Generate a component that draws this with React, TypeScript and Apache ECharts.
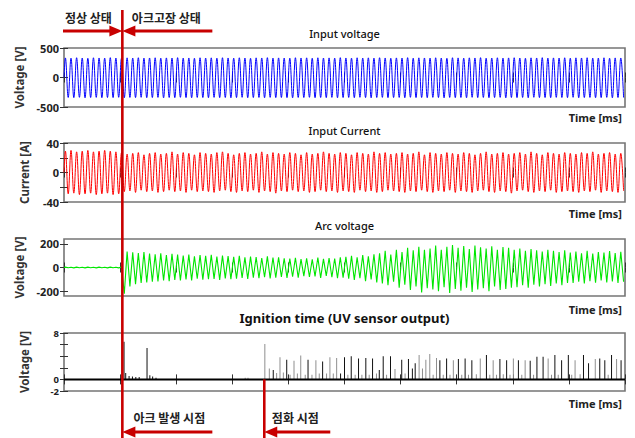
import React, { useEffect, useRef } from "react";
import * as echarts from "echarts";

// Time base (ms) and event markers
const TIME_MIN = 0;
const TIME_MAX = 1000;
const HALF_PERIOD = 5;
const faultTime = 104;
const ignitionTime = 357;

// Input voltage: positive / negative peak of every cycle [V]
const voltagePos = [
  332, 328, 335, 330, 326, 334, 331, 329, 336, 330,
  327, 333, 330, 335, 329, 331, 334, 328, 332, 330,
  336, 329, 331, 327, 334, 330, 333, 328, 335, 331,
  329, 334, 330, 326, 333, 331, 336, 329, 332, 330,
  328, 335, 331, 333, 327, 334, 330, 332, 329, 336,
  331, 328, 334, 330, 333, 329, 335, 331, 327, 332,
  330, 336, 328, 333, 331, 329, 334, 330, 326, 335,
  332, 329, 333, 331, 336, 328, 330, 334, 329, 332,
  335, 330, 327, 333, 331, 336, 329, 332, 330, 334,
  328, 333, 331, 335, 329, 330, 334, 327, 332, 331,
];
const voltageNeg = [
  -338, -342, -336, -345, -340, -337, -343, -339, -341, -336,
  -344, -338, -341, -336, -343, -340, -337, -345, -339, -342,
  -336, -341, -344, -338, -340, -343, -337, -342, -339, -345,
  -341, -336, -343, -340, -338, -344, -337, -341, -339, -342,
  -345, -338, -340, -336, -343, -339, -342, -337, -344, -340,
  -338, -343, -336, -341, -345, -339, -337, -342, -340, -338,
  -344, -336, -341, -339, -343, -337, -340, -345, -338, -342,
  -339, -344, -336, -341, -338, -343, -340, -337, -345, -339,
  -342, -338, -344, -336, -341, -340, -343, -337, -339, -342,
  -336, -344, -340, -338, -343, -341, -337, -345, -339, -340,
];

// Input current: positive / negative peak of every cycle [A]
const currentPos = [
  29, 30, 28, 29, 30, 28, 29, 30, 29, 28,
  27, 25, 26, 27, 24, 26, 27, 25, 26, 28,
  25, 27, 26, 24, 27, 26, 25, 27, 28, 26,
  24, 26, 27, 25, 26, 28, 25, 27, 26, 25,
  27, 26, 24, 27, 25, 26, 28, 26, 25, 27,
  26, 24, 27, 26, 25, 28, 26, 27, 25, 26,
  27, 25, 26, 28, 24, 27, 26, 25, 27, 26,
  25, 27, 26, 24, 26, 28, 25, 26, 27, 25,
  26, 27, 25, 28, 26, 24, 27, 26, 25, 27,
  26, 25, 27, 26, 28, 25, 26, 27, 25, 26,
];
const currentNeg = [
  -29, -28, -30, -29, -28, -30, -29, -28, -30, -29,
  -26, -25, -27, -24, -26, -25, -27, -26, -24, -26,
  -25, -27, -24, -26, -25, -26, -27, -25, -24, -26,
  -27, -25, -26, -24, -27, -25, -26, -28, -25, -26,
  -24, -26, -25, -27, -26, -24, -26, -25, -27, -25,
  -26, -27, -24, -26, -25, -27, -26, -24, -25, -26,
  -27, -25, -26, -24, -26, -27, -25, -26, -24, -27,
  -25, -26, -27, -25, -24, -26, -27, -25, -26, -28,
  -25, -24, -26, -27, -25, -26, -24, -27, -26, -25,
  -26, -27, -25, -26, -24, -27, -25, -26, -27, -25,
];

// Arc voltage: positive / negative peak of every cycle [V]
const arcPos = [
  3, 2, 3, 2, 3, 2, 3, 2, 3, 2,
  5, 135, 128, 122, 130, 118, 112, 120, 105, 115,
  108, 100, 110, 95, 104, 98, 106, 92, 100, 96,
  90, 98, 85, 92, 88, 80, 94, 84, 86, 78,
  75, 82, 70, 78, 68, 84, 72, 80, 76, 86,
  90, 98, 85, 105, 95, 112, 120, 140, 110, 150,
  130, 165, 145, 175, 150, 160, 185, 150, 175, 190,
  165, 180, 155, 185, 170, 160, 178, 150, 172, 165,
  150, 160, 140, 155, 145, 135, 150, 140, 130, 145,
  125, 135, 120, 140, 118, 130, 125, 138, 122, 132,
];
const arcNeg = [
  -2, -3, -2, -3, -2, -3, -2, -3, -2, -3,
  -220, -160, -140, -130, -125, -120, -118, -110, -115, -105,
  -110, -100, -108, -95, -102, -98, -96, -104, -92, -98,
  -94, -88, -96, -85, -90, -82, -92, -86, -80, -88,
  -78, -85, -72, -80, -75, -88, -70, -82, -90, -85,
  -95, -105, -90, -115, -100, -125, -135, -150, -120, -170,
  -145, -190, -160, -210, -175, -185, -200, -165, -215, -180,
  -195, -170, -205, -185, -175, -200, -160, -190, -180, -170,
  -165, -150, -170, -145, -160, -140, -155, -135, -150, -130,
  -130, -120, -135, -115, -128, -110, -125, -118, -130, -120,
];

// UV sensor output pulses [time ms, volts]
const uvBlackSpikes = [
  [107, 6.5], [110, 1.1], [116, 0.6], [122, 0.5], [128, 0.4], [134, 0.4],
  [148, 5.4], [153, 0.7], [158, 0.5], [164, 0.3],
  [373, 1.6], [397, 3.4], [435, 3.4], [461, 3.1], [493, 1.0], [500, 3.8],
  [512, 4.0], [525, 3.6], [538, 3.7], [550, 3.6], [562, 1.6], [569, 4.0],
  [582, 4.0], [602, 3.4], [614, 3.5], [621, 1.9], [626, 2.8], [670, 3.3],
  [682, 3.6], [703, 3.5], [715, 3.6], [727, 3.3], [753, 4.2], [777, 3.5],
  [789, 3.3], [810, 3.3], [831, 3.2], [843, 3.9], [854, 3.9], [875, 4.2],
  [887, 3.3], [899, 4.2], [926, 4.2], [935, 2.8], [955, 3.6], [964, 3.3],
  [976, 4.2], [993, 3.3],
];
const uvGreySpikes = [
  [323, 0.3], [328, 0.3],
  [358, 6.1], [366, 1.9], [379, 1.1], [385, 3.8], [391, 1.2], [403, 0.8],
  [410, 3.2], [416, 1.0], [422, 4.1], [430, 0.8], [442, 0.8], [449, 3.3],
  [455, 1.0], [468, 1.0], [474, 3.8], [480, 1.0], [486, 3.7], [506, 0.8],
  [519, 0.8], [531, 0.8], [544, 0.8], [557, 1.0], [575, 0.8], [590, 1.8],
  [608, 1.0], [633, 4.2], [639, 1.9], [645, 3.4], [652, 4.4], [658, 0.8],
  [664, 3.7], [676, 0.8], [688, 0.8], [694, 3.3], [709, 0.8], [721, 0.8],
  [735, 0.9], [742, 3.6], [759, 0.8], [765, 3.3], [771, 0.8], [783, 0.9],
  [795, 0.8], [801, 3.6], [816, 0.8], [822, 3.3], [837, 0.8], [863, 3.6],
  [869, 0.8], [881, 0.8], [905, 0.8], [911, 3.3], [920, 0.9], [947, 3.5],
  [970, 0.8], [985, 3.5],
];

const LATIN = "'Noto Sans', 'Noto Sans CJK KR', sans-serif";
const HANGUL = "'Noto Sans CJK KR', 'Noto Sans', sans-serif";
const ARROW_RED = "#c80000";

const GRID_LEFT = 64;
const GRID_WIDTH = 561;
const panels = [
  { top: 48, height: 59, title: "Input voltage", titleY: 33, timeY: 117 },
  { top: 143, height: 59, title: "Input Current", titleY: 130, timeY: 213 },
  { top: 239, height: 57, title: "Arc voltage", titleY: 225, timeY: 309 },
  { top: 333, height: 58, title: "Ignition time (UV sensor output)", titleY: 318, timeY: 403 },
];

// Alternating positive/negative peaks placed on the half-cycle grid
function waveform(pos: number[], neg: number[]): [number, number][] {
  const pts: [number, number][] = [[TIME_MIN, 0]];
  pos.forEach((p, i) => {
    pts.push([i * 2 * HALF_PERIOD + HALF_PERIOD / 2, p]);
    pts.push([i * 2 * HALF_PERIOD + HALF_PERIOD * 1.5, neg[i]]);
  });
  return pts;
}

function xAxes(gridIndex: number) {
  return ["bottom", "top"].map((position) => ({
    gridIndex,
    type: "value",
    position,
    min: TIME_MIN,
    max: TIME_MAX,
    interval: 100,
    axisLine: { show: false },
    axisTick: { show: true, inside: true, length: 5, lineStyle: { color: "#333", width: 1 } },
    axisLabel: { show: false },
    splitLine: { show: false },
  }));
}

const labelFont = {
  fontFamily: LATIN,
  fontWeight: "bold",
  fontSize: 11,
  color: "#222",
};

function yAxes(
  gridIndex: number,
  min: number,
  max: number,
  ticks: number[],
  labels: number[],
  name: string,
  labelExtra: any = {}
) {
  const base = {
    gridIndex,
    type: "value",
    min,
    max,
    axisLine: { show: false },
    splitLine: { show: false },
    axisTick: {
      show: true,
      inside: true,
      length: 4,
      customValues: ticks,
      lineStyle: { color: "#333", width: 1 },
    },
  };
  return [
    {
      ...base,
      position: "left",
      name,
      nameLocation: "middle",
      nameGap: 34,
      nameTextStyle: { fontFamily: LATIN, fontWeight: "bold", fontSize: 11.5, color: "#333" },
      axisLabel: {
        show: true,
        customValues: labels,
        margin: 5,
        ...labelFont,
        ...labelExtra,
      },
    },
    { ...base, position: "right", axisLabel: { show: false } },
  ];
}

// The UV panel's 0 and -2 labels sit only 11px apart
const uvLabelFont = { fontSize: 9.5, lineHeight: 9.5 };

export default function App() {
  const ref = useRef<HTMLDivElement>(null);

  useEffect(() => {
    if (!ref.current) return;
    const chart = echarts.init(ref.current, undefined, { renderer: "svg" });

    const spikeSeries = (data: number[][], color: string) => ({
      type: "bar",
      xAxisIndex: 6,
      yAxisIndex: 6,
      data,
      barWidth: 1,
      barGap: "-100%",
      itemStyle: { color },
      z: 3,
    });

    chart.setOption({
      animation: false,
      grid: panels.map((p) => ({
        left: GRID_LEFT,
        width: GRID_WIDTH,
        top: p.top,
        height: p.height,
        show: true,
        borderColor: "#757575",
        borderWidth: 1.6,
        backgroundColor: "transparent",
      })),
      xAxis: [0, 1, 2, 3].flatMap((g) => xAxes(g)),
      yAxis: [
        ...yAxes(0, -500, 500, [-500, 0, 500], [-500, 0, 500], "Voltage [V]"),
        ...yAxes(1, -40, 40, [-40, -20, 0, 20, 40], [-40, 0, 40], "Current [A]"),
        ...yAxes(2, -240, 240, [-200, 0, 200], [-200, 0, 200], "Voltage [V]"),
        ...yAxes(3, -2, 8, [-2, 0, 2, 4, 6, 8], [0, 8], "Voltage [V]", uvLabelFont),
        // Separate label-only axis for the bottom "-2" of the UV panel
        {
          gridIndex: 3,
          type: "value",
          position: "left",
          min: -2,
          max: 8,
          axisLine: { show: false },
          axisTick: { show: false },
          splitLine: { show: false },
          axisLabel: {
            show: true,
            customValues: [-2],
            margin: 5,
            ...labelFont,
            ...uvLabelFont,
          },
        },
      ],
      series: [
        {
          type: "line",
          xAxisIndex: 0,
          yAxisIndex: 0,
          data: waveform(voltagePos, voltageNeg),
          smooth: 0.4,
          showSymbol: false,
          lineStyle: { color: "#0000ff", width: 1 },
        },
        {
          type: "line",
          xAxisIndex: 2,
          yAxisIndex: 2,
          data: waveform(currentPos, currentNeg),
          smooth: 0.4,
          showSymbol: false,
          lineStyle: { color: "#ff0000", width: 1 },
        },
        {
          type: "line",
          xAxisIndex: 4,
          yAxisIndex: 4,
          data: waveform(arcPos, arcNeg),
          showSymbol: false,
          lineStyle: { color: "#00e600", width: 1.1 },
        },
        {
          type: "line",
          xAxisIndex: 6,
          yAxisIndex: 6,
          data: [
            [TIME_MIN, 0],
            [TIME_MAX, 0],
          ],
          showSymbol: false,
          lineStyle: { color: "#000", width: 2 },
          z: 4,
        },
        spikeSeries(uvGreySpikes, "#8f8f8f"),
        spikeSeries(uvBlackSpikes, "#111"),
      ],
    });

    // Event markers placed through the time axis scale
    const fx = chart.convertToPixel({ xAxisIndex: 0 }, faultTime) as number;
    const ix = chart.convertToPixel({ xAxisIndex: 6 }, ignitionTime) as number;
    const uvZero = chart.convertToPixel({ yAxisIndex: 6 }, 0) as number;
    const H = 438;
    const topArrowY = 31;
    const bottomArrowY = 432;

    const shaft = (x1: number, x2: number, y: number) => ({
      type: "line",
      shape: { x1, y1: y, x2, y2: y },
      style: { stroke: ARROW_RED, lineWidth: 3 },
      z: 20,
    });
    const head = (tip: number, y: number, dir: number) => ({
      type: "polygon",
      shape: {
        points: [
          [tip - dir * 13, y - 5.5],
          [tip, y],
          [tip - dir * 13, y + 5.5],
        ],
      },
      style: { fill: ARROW_RED },
      z: 21,
    });
    const label = (text: string, x: number, y: number, opts: any = {}) => ({
      type: "text",
      x,
      y,
      style: {
        text,
        fill: "#222",
        fontFamily: LATIN,
        fontSize: 11,
        fontWeight: "bold",
        align: "center",
        verticalAlign: "middle",
        ...opts,
      },
      z: 22,
    });

    const graphics: any[] = [];
    panels.forEach((p, i) => {
      graphics.push(
        label(p.title, GRID_LEFT + GRID_WIDTH / 2, p.titleY, {
          fontSize: i === 3 ? 13 : 11,
          fontWeight: i === 3 ? "bold" : 500,
          fill: "#111",
        })
      );
      graphics.push(label("Time [ms]", GRID_LEFT + GRID_WIDTH - 3, p.timeY, { align: "right", fontSize: 11 }));
    });

    graphics.push(
      {
        type: "line",
        shape: { x1: fx, y1: 10, x2: fx, y2: H },
        style: { stroke: ARROW_RED, lineWidth: 2.6 },
        z: 20,
      },
      {
        type: "line",
        shape: { x1: ix, y1: uvZero, x2: ix, y2: H },
        style: { stroke: ARROW_RED, lineWidth: 2.6 },
        z: 20,
      },
      shaft(GRID_LEFT - 1, fx - 11, topArrowY),
      head(fx, topArrowY, 1),
      shaft(fx + 11, fx + 90, topArrowY),
      head(fx, topArrowY, -1),
      shaft(fx + 11, fx + 90, bottomArrowY),
      head(fx, bottomArrowY, -1),
      shaft(ix + 11, ix + 66, bottomArrowY),
      head(ix, bottomArrowY, -1),
      label("정상 상태", fx - 34, 17, { fontFamily: HANGUL, fontSize: 12 }),
      label("아크고장 상태", fx + 44, 17, { fontFamily: HANGUL, fontSize: 12 }),
      label("아크 발생 시점", fx + 47, 417, { fontFamily: HANGUL, fontSize: 12 }),
      label("점화 시점", ix + 31, 417, { fontFamily: HANGUL, fontSize: 12 })
    );

    chart.setOption({ graphic: graphics });

    return () => chart.dispose();
  }, []);

  return (
    <div
      ref={ref}
      style={{ position: "fixed", left: 0, top: 0, width: 635, height: 438, background: "#fff" }}
    />
  );
}
